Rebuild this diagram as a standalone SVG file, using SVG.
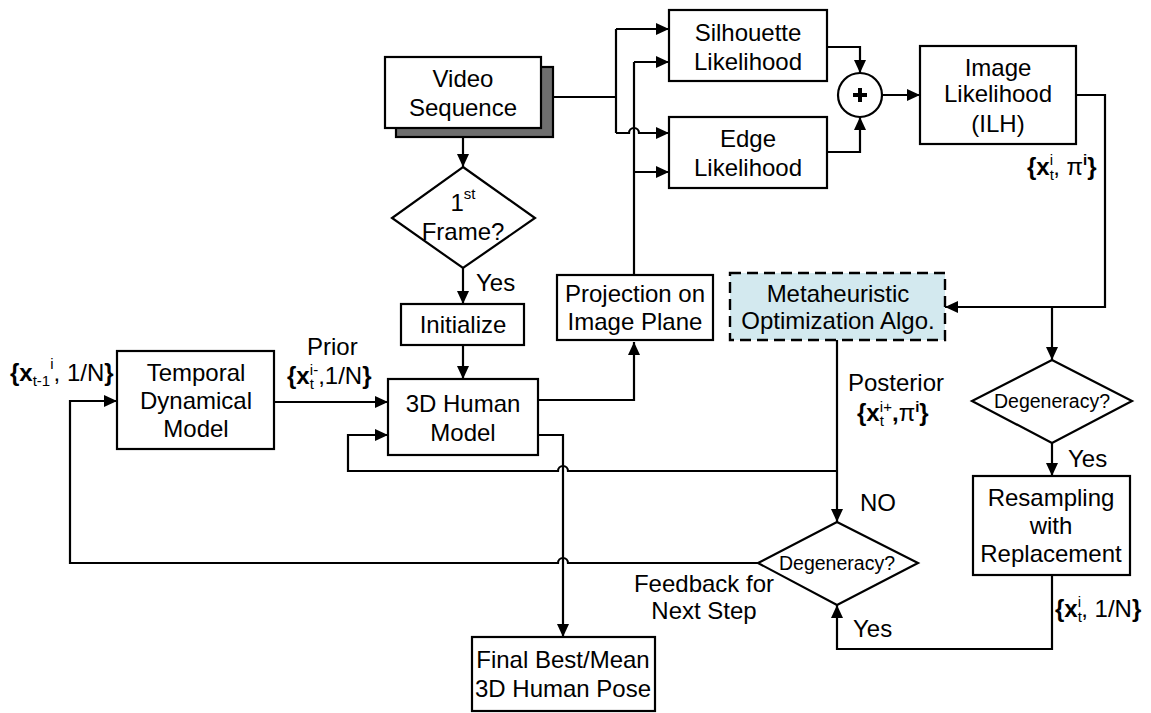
<svg xmlns="http://www.w3.org/2000/svg" width="1151" height="713" viewBox="0 0 1151 713">
  <defs>
    <marker id="arrow" markerUnits="userSpaceOnUse" markerWidth="13" markerHeight="12" refX="13" refY="6" orient="auto">
      <path d="M0,0 L13,6 L0,12 z" fill="#000"/>
    </marker>
    <style>
      text { font-family: "Liberation Sans", Arial, sans-serif; font-size: 24px; fill: #000; }
      .c { text-anchor: middle; }
      .b { font-weight: bold; }
      .s { font-size: 15px; }
      .dg { font-size: 19.5px; }
      .box { fill: #fff; stroke: #000; stroke-width: 2.2; }
      .shadow { fill: #6e6e6e; stroke: #000; stroke-width: 2.2; }
      .meta { fill: #d3e9ef; stroke: #000; stroke-width: 2.4; stroke-dasharray: 11 6; }
      .wire { fill: none; stroke: #000; stroke-width: 2.2; }
      .arr { marker-end: url(#arrow); }
    </style>
  </defs>

  <!-- connectors -->
  <g id="connectors">
    <!-- video sequence to the two likelihoods -->
    <path class="wire" d="M553,97 H616"/>
    <path class="wire" d="M616,29 V133"/>
    <path class="wire arr" d="M616,29 H669"/>
    <path class="wire arr" d="M616,133 H629 A5,5 0 0 1 639,133 H669"/>
    <!-- projection to the two likelihoods -->
    <path class="wire" d="M634,275 V62"/>
    <path class="wire arr" d="M634,62 H669"/>
    <path class="wire arr" d="M634,172 H669"/>
    <!-- likelihoods into the summing junction -->
    <path class="wire arr" d="M827,47 H860 V73"/>
    <path class="wire arr" d="M827,152 H860 V117"/>
    <path class="wire arr" d="M882,95 H920"/>
    <!-- image likelihood to optimisation and degeneracy test -->
    <path class="wire arr" d="M1076,95 H1105 V307 H945"/>
    <path class="wire arr" d="M1052,307 V360"/>
    <path class="wire arr" d="M1052,443 V476"/>
    <path class="wire arr" d="M1052,575 V649 H837 V605"/>
    <!-- posterior to second degeneracy test -->
    <path class="wire arr" d="M837,340 V522"/>
    <!-- posterior fed back into the human model -->
    <path class="wire arr" d="M837,471 H568 A5,5 0 0 0 558,471 H348 V435 H388"/>
    <!-- feedback for next step -->
    <path class="wire arr" d="M758,563 H568 A5,5 0 0 0 558,563 H70 V401 H117"/>
    <!-- human model outputs -->
    <path class="wire arr" d="M538,435 H563 V637"/>
    <path class="wire arr" d="M538,400 H634 V342"/>
    <!-- first-frame path -->
    <path class="wire arr" d="M463,128 V167"/>
    <path class="wire arr" d="M463,268 V304"/>
    <path class="wire arr" d="M463,345 V379"/>
    <!-- temporal model to human model -->
    <path class="wire arr" d="M274,402 H388"/>
  </g>

  <g id="video-sequence">
    <rect class="shadow" x="396" y="67" width="157" height="70"/>
    <rect class="box" x="385" y="57" width="156" height="71"/>
    <text class="c" x="463" y="87">Video</text>
    <text class="c" x="463" y="116">Sequence</text>
  </g>

  <g id="silhouette-likelihood">
    <rect class="box" x="669" y="10" width="158" height="71"/>
    <text class="c" x="748" y="41">Silhouette</text>
    <text class="c" x="748" y="70">Likelihood</text>
  </g>

  <g id="edge-likelihood">
    <rect class="box" x="669" y="117" width="158" height="71"/>
    <text class="c" x="748" y="147">Edge</text>
    <text class="c" x="748" y="176">Likelihood</text>
  </g>

  <g id="sum">
    <circle cx="860" cy="95" r="22" fill="#fff" stroke="#000" stroke-width="2.2"/>
    <path d="M853,95 H867 M860,88 V102" stroke="#000" stroke-width="4" fill="none"/>
  </g>

  <g id="image-likelihood">
    <rect class="box" x="920" y="46" width="156" height="98"/>
    <text class="c" x="998" y="76">Image</text>
    <text class="c" x="998" y="102">Likelihood</text>
    <text class="c" x="998" y="132">(ILH)</text>
    <text x="1027" y="175"><tspan class="b">{x</tspan><tspan class="s" dy="5">t</tspan><tspan class="s" dx="-4" dy="-15">i</tspan><tspan dy="10">, π</tspan><tspan class="s b" dy="-10">i</tspan><tspan class="b" dy="10">}</tspan></text>
  </g>

  <g id="first-frame">
    <polygon class="box" points="463,167 535,218 463,268 392,218"/>
    <text class="c" x="463" y="211">1<tspan class="s" dy="-12">st</tspan></text>
    <text class="c" x="463" y="240">Frame?</text>
    <text x="476" y="291">Yes</text>
  </g>

  <g id="initialize">
    <rect class="box" x="401" y="304" width="123" height="41"/>
    <text class="c" x="463" y="333">Initialize</text>
  </g>

  <g id="projection">
    <rect class="box" x="557" y="275" width="156" height="65"/>
    <text class="c" x="635" y="302">Projection on</text>
    <text class="c" x="635" y="330">Image Plane</text>
  </g>

  <g id="metaheuristic">
    <rect class="meta" x="730" y="273" width="215" height="67"/>
    <text class="c" x="838" y="302">Metaheuristic</text>
    <text class="c" x="838" y="329">Optimization Algo.</text>
    <text x="848" y="391">Posterior</text>
    <text x="857" y="421"><tspan class="b">{x</tspan><tspan class="s" dy="5">t</tspan><tspan class="s" dx="-4" dy="-14">i+</tspan><tspan class="b" dy="9">,</tspan><tspan>π</tspan><tspan class="s b" dy="-9">i</tspan><tspan class="b" dy="9">}</tspan></text>
  </g>

  <g id="temporal-model">
    <rect class="box" x="117" y="351" width="157" height="98"/>
    <text class="c" x="196" y="381">Temporal</text>
    <text class="c" x="196" y="409">Dynamical</text>
    <text class="c" x="196" y="437">Model</text>
    <text x="10" y="381"><tspan class="b">{x</tspan><tspan class="s" dy="5">t-1</tspan><tspan class="s" dy="-17">i</tspan><tspan dy="12">, 1/N</tspan><tspan class="b">}</tspan></text>
    <text x="307" y="355">Prior</text>
    <text x="287" y="384"><tspan class="b">{x</tspan><tspan class="s" dy="5">t</tspan><tspan class="s" dx="-4" dy="-14">i-</tspan><tspan dy="9">,1/N</tspan><tspan class="b">}</tspan></text>
  </g>

  <g id="human-model">
    <rect class="box" x="388" y="379" width="150" height="76"/>
    <text class="c" x="463" y="412">3D Human</text>
    <text class="c" x="463" y="441">Model</text>
  </g>

  <g id="degeneracy-resample">
    <polygon class="box" points="1052,360 1132,401 1052,443 972,401"/>
    <text class="c dg" x="1052" y="408">Degeneracy?</text>
    <text x="1068" y="467">Yes</text>
  </g>

  <g id="resampling">
    <rect class="box" x="973" y="476" width="157" height="99"/>
    <text class="c" x="1051" y="506">Resampling</text>
    <text class="c" x="1051" y="534">with</text>
    <text class="c" x="1051" y="562">Replacement</text>
    <text x="1055" y="617"><tspan class="b">{x</tspan><tspan class="s" dy="5">t</tspan><tspan class="s" dx="-4" dy="-15">i</tspan><tspan dy="10">, 1/N</tspan><tspan class="b">}</tspan></text>
  </g>

  <g id="degeneracy-feedback">
    <polygon class="box" points="837,522 918,563 837,605 758,563"/>
    <text class="c dg" x="837" y="570">Degeneracy?</text>
    <text x="860" y="511">NO</text>
    <text x="853" y="637">Yes</text>
    <text class="c" x="704" y="592">Feedback for</text>
    <text class="c" x="704" y="619">Next Step</text>
  </g>

  <g id="final-pose">
    <rect class="box" x="472" y="637" width="183" height="74"/>
    <text class="c" x="563" y="668">Final Best/Mean</text>
    <text class="c" x="563" y="697">3D Human Pose</text>
  </g>
</svg>
